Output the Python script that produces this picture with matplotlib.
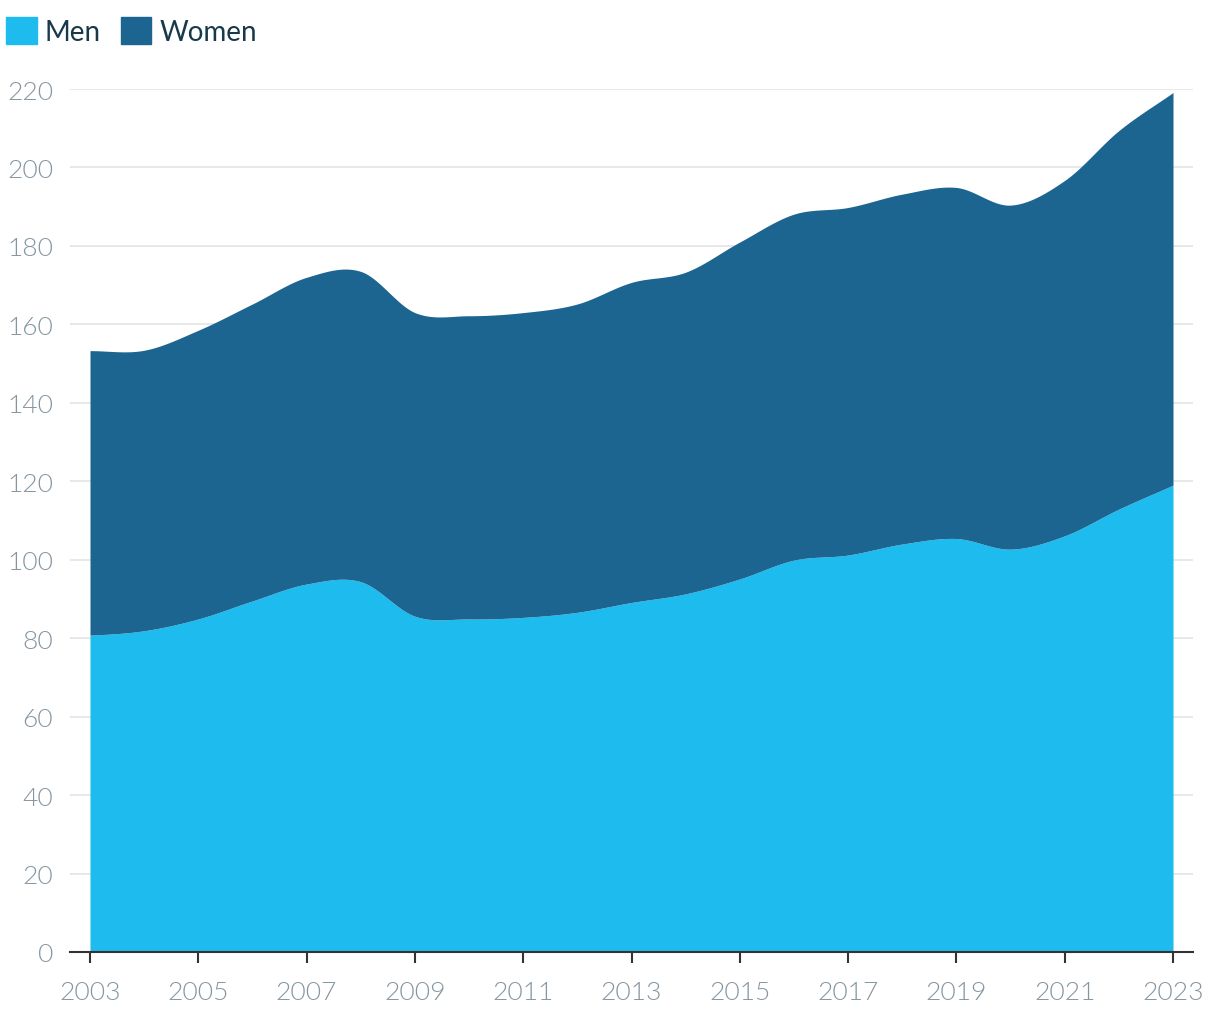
import numpy as np
import matplotlib
matplotlib.use("Agg")
import matplotlib.pyplot as plt
from matplotlib.patches import Patch

# veriler
yillar = list(range(2003, 2024))
erkek = [80.8, 81.9, 84.9, 89.5, 93.8, 94.4, 85.6, 84.9, 85.3, 86.6, 89.1,
         91.3, 95.1, 99.9, 101.2, 104.0, 105.4, 102.7, 106.1, 112.9, 119.0]
toplam = [153.3, 153.4, 158.5, 165.2, 172.0, 173.5, 163.0, 162.2, 163.0, 165.2, 170.7,
          173.3, 181.0, 188.1, 189.8, 193.2, 194.9, 190.4, 196.7, 209.4, 219.1]
kadin = [t - e for t, e in zip(toplam, erkek)]

y_ticks = list(range(0, 221, 20))
x_ticks = list(range(2003, 2024, 2))

renk_erkek = "#1DBBEE"
renk_kadin = "#1D6591"


def spline(xs, ys, n=30):
    # catmull-rom benzeri yumusak egri (sadece cizim icin)
    xs = np.asarray(xs, float)
    ys = np.asarray(ys, float)
    k = len(xs)
    m = np.zeros(k)
    m[1:-1] = (ys[2:] - ys[:-2]) / (xs[2:] - xs[:-2])
    m[0] = (ys[1] - ys[0]) / (xs[1] - xs[0]) * 0.5
    m[-1] = (ys[-1] - ys[-2]) / (xs[-1] - xs[-2])
    ox, oy = [], []
    for i in range(k - 1):
        h = xs[i + 1] - xs[i]
        t = np.linspace(0, 1, n, endpoint=(i == k - 2))
        h00 = 2 * t ** 3 - 3 * t ** 2 + 1
        h10 = t ** 3 - 2 * t ** 2 + t
        h01 = -2 * t ** 3 + 3 * t ** 2
        h11 = t ** 3 - t ** 2
        ox.extend(xs[i] + t * h)
        oy.extend(h00 * ys[i] + h10 * h * m[i] + h01 * ys[i + 1] + h11 * h * m[i + 1])
    return np.array(ox), np.array(oy)


plt.rcParams["font.family"] = ["Lato", "DejaVu Sans"]

fig = plt.figure(figsize=(12.2, 10.2), dpi=100)
ax = fig.add_axes([70 / 1220, 67 / 1020, (1193 - 70) / 1220, (953 - 90) / 1020])

ex, ey = spline(yillar, erkek)
tx, ty = spline(yillar, toplam)
ax.fill_between(ex, 0, ey, color=renk_erkek, lw=0, zorder=2)
ax.fill_between(tx, np.interp(tx, ex, ey), ty, color=renk_kadin, lw=0, zorder=2)

ax.set_xlim(2003 - 20 / 54.15, 2023 + 20 / 54.15)
ax.set_ylim(0, 220)
ax.set_yticks(y_ticks)
ax.set_xticks(x_ticks)
ax.set_xticklabels([str(x) for x in x_ticks])
ax.grid(axis="y", color="#e6e6e6", lw=1.3, zorder=0)
ax.set_axisbelow(True)

for s in ["top", "right", "left"]:
    ax.spines[s].set_visible(False)
ax.spines["bottom"].set_color("#333333")
ax.spines["bottom"].set_linewidth(1.5)
ax.spines["bottom"].set_zorder(5)

ax.tick_params(axis="y", length=0, pad=12, labelsize=19, labelcolor="#8596a1")
ax.tick_params(axis="x", length=8, width=1.5, color="#333333", pad=12,
               labelsize=19, labelcolor="#8596a1")
for lbl in ax.get_xticklabels() + ax.get_yticklabels():
    lbl.set_fontweight(300)

tutamac = [Patch(color=renk_erkek, label="Men"), Patch(color=renk_kadin, label="Women")]
fig.legend(handles=tutamac, loc="upper left", bbox_to_anchor=(-0.0155, 1.007), ncol=2,
           frameon=False, fontsize=20, labelcolor="#17394a",
           handlelength=1.1, handleheight=1.1, handletextpad=0.3,
           columnspacing=0.7, borderaxespad=0.5)

fig.savefig("out.png", dpi=100)
